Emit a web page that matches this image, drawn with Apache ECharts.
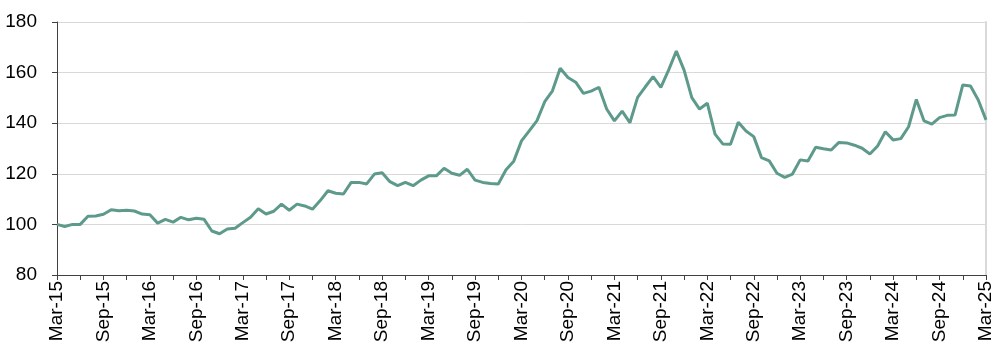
<!DOCTYPE html>
<html>
<head>
<meta charset="utf-8">
<script src="https://cdn.jsdelivr.net/npm/echarts@6/dist/echarts.min.js"></script>
<style>
  html, body { margin: 0; padding: 0; background: #fff; }
  #chart { width: 1005px; height: 349px; }
</style>
</head>
<body>
<div id="chart"></div>
<script>
// month labels Mar-15 .. Mar-25
var months = ['Jan', 'Feb', 'Mar', 'Apr', 'May', 'Jun', 'Jul', 'Aug', 'Sep', 'Oct', 'Nov', 'Dec'];
var categories = [];
for (var i = 0; i <= 120; i++) {
  var m = (2 + i) % 12;
  var y = 15 + Math.floor((2 + i) / 12);
  categories.push(months[m] + '-' + y);
}

// index values
var values = [
  100, 99.2, 100, 100, 103.2, 103.3, 104, 105.8, 105.4, 105.6, 105.3, 104.1,
  103.8, 100.5, 102, 100.9, 102.8, 101.8, 102.4, 102, 97.4, 96.3, 98.2, 98.5,
  100.7, 102.8, 106.2, 104.1, 105.2, 108, 105.6, 108, 107.3, 106, 109.4, 113.3,
  112.3, 112, 116.6, 116.6, 116, 119.9, 120.4, 116.9, 115.3, 116.6, 115.3, 117.5,
  119.2, 119.2, 122.2, 120.2, 119.4, 121.8, 117.5, 116.6, 116.2, 116, 121.6, 125,
  133, 137, 141, 148.5, 152.8, 161.7, 158.1, 156.2, 151.8, 152.7, 154.2, 145.6,
  140.9, 144.8, 140.2, 150.2, 154.4, 158.4, 154.2, 161, 168.5, 161, 150.1, 145.6,
  147.9, 135.7, 131.8, 131.7, 140.4, 136.9, 134.7, 126.4, 125.1, 120.2, 118.6, 119.9,
  125.5, 125.1, 130.5, 129.9, 129.4, 132.4, 132.2, 131.3, 130.1, 127.8, 131, 136.6,
  133.4, 133.9, 138.6, 149.4, 140.9, 139.6, 142.2, 143.1, 143.2, 155.1, 154.7, 149.2,
  141.3
];

var chart = echarts.init(document.getElementById('chart'), null, { renderer: 'canvas' });

var option = {
  animation: false,
  grid: { left: 57, right: 19, top: 22, bottom: 74 },
  xAxis: {
    type: 'category',
    data: categories,
    boundaryGap: false,
    axisLine: { lineStyle: { color: '#404040', width: 1 } },
    axisTick: { interval: 2, length: 5, lineStyle: { color: '#404040' } },
    axisLabel: {
      interval: 5,
      rotate: 90,
      margin: 6,
      color: '#000',
      fontFamily: 'Liberation Sans, Arial, sans-serif',
      fontSize: 19
    },
    splitLine: { show: false }
  },
  yAxis: [{
    type: 'value',
    min: 80,
    max: 180,
    interval: 20,
    axisLine: { show: true, lineStyle: { color: '#404040', width: 1 } },
    axisTick: { show: true, length: 5, lineStyle: { color: '#404040' } },
    axisLabel: {
      margin: 20,
      color: '#000',
      fontFamily: 'Liberation Sans, Arial, sans-serif',
      fontSize: 19
    },
    splitLine: { lineStyle: { color: '#d9d9d9', width: 1 } }
  }, {
    // right frame line
    type: 'value',
    position: 'right',
    min: 80,
    max: 180,
    interval: 20,
    axisLine: { show: true, lineStyle: { color: '#d9d9d9', width: 2 } },
    axisTick: { show: false },
    axisLabel: { show: false },
    splitLine: { show: false }
  }],
  series: [{
    type: 'line',
    data: values,
    showSymbol: false,
    symbol: 'none',
    lineStyle: { color: '#5e9a8b', width: 3 }
  }]
};
chart.setOption(option);
</script>
</body>
</html>
